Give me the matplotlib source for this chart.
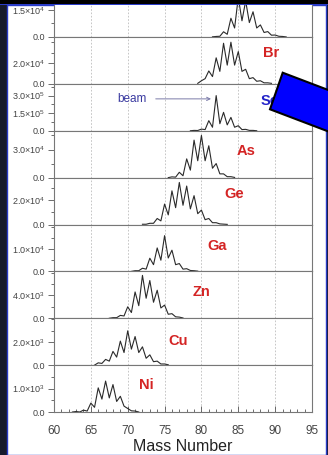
import numpy as np
import matplotlib
matplotlib.use('Agg')
import matplotlib.pyplot as plt
from matplotlib.patches import Rectangle, Polygon
from matplotlib.ticker import FixedLocator, FixedFormatter, MultipleLocator

plt.rcParams['font.family'] = ['Liberation Sans', 'DejaVu Sans']
plt.rcParams['mathtext.fontset'] = 'custom'
plt.rcParams['mathtext.rm'] = 'Liberation Sans'

# fragment yields, top panel to bottom panel
elements = ['Kr', 'Br', 'Se', 'As', 'Ge', 'Ga', 'Zn', 'Cu', 'Ni']

# each spectrum: first mass, then counts every half mass unit
kr_start = 81.5
kr_counts = [100, 300, 400, 2900, 1500, 10400, 5000, 22000, 9000, 20000, 8000,
             14000, 5000, 6700, 2500, 3000, 1000, 1100, 400, 300, 50]
br_start = 79.5
br_counts = [500, 3000, 5000, 12400, 7000, 25000, 12000, 39000, 18000, 40000, 18000,
             31000, 12000, 14000, 5000, 6000, 2500, 3000, 1000, 1000, 500]
se_start = 78.5
se_counts = [0, 3000, 2000, 14000, 10000, 86000, 30000, 300000, 60000, 157000,
             50000, 114000, 30000, 43000, 10000, 12000, 3000, 3000, 0]
as_start = 75.5
as_counts = [0, 800, 500, 5700, 2000, 20000, 8000, 40000, 18000, 45000, 18000,
             34000, 10000, 15000, 4000, 4000, 1000, 1000, 200]
ge_start = 72.0
ge_counts = [200, 200, 1000, 1000, 5000, 3000, 17000, 8000, 28000, 14000, 35000,
             16000, 32000, 13000, 24000, 9000, 12000, 4000, 5000, 1500, 1500, 500,
             300, 100]
ga_start = 70.5
ga_counts = [0, 300, 300, 1400, 1000, 5900, 3000, 10500, 5000, 16000, 6000, 9500,
             3000, 3500, 1000, 1200, 400, 300, 100]
zn_start = 67.5
zn_counts = [0, 100, 100, 500, 400, 2000, 1000, 4600, 2200, 7500, 3500, 6600, 2800,
             4900, 1800, 2300, 700, 800, 250, 200, 50]
cu_start = 65.5
cu_counts = [0, 200, 150, 500, 350, 1200, 700, 2100, 1100, 3000, 1400, 2500, 1100,
             1600, 600, 900, 300, 350, 100, 100, 30]
ni_start = 62.5
ni_counts = [0, 20, 0, 80, 40, 380, 200, 1030, 550, 1320, 600, 1170, 450, 670, 250,
             150, 50, 40, 0]

starts = [kr_start, br_start, se_start, as_start, ge_start, ga_start, zn_start,
          cu_start, ni_start]
counts = [kr_counts, br_counts, se_counts, as_counts, ge_counts, ga_counts,
          zn_counts, cu_counts, ni_counts]

# labelled y ticks and panel tops
major_ticks = [[1.5e4], [2e4], [1.5e5, 3e5], [3e4], [2e4], [1e4], [4e3], [2e3], [1e3]]
tick_text = [[r'$1.5{\times}10^{4}$'], [r'$2.0{\times}10^{4}$'],
             [r'$1.5{\times}10^{5}$', r'$3.0{\times}10^{5}$'],
             [r'$3.0{\times}10^{4}$'], [r'$2.0{\times}10^{4}$'],
             [r'$1.0{\times}10^{4}$'], [r'$4.0{\times}10^{3}$'],
             [r'$2.0{\times}10^{3}$'], [r'$1.0{\times}10^{3}$']]
y_tops = [2.6e4, 4.5e4, 4.0e5, 5.0e4, 3.9e4, 2.1e4, 8.2e3, 4.1e3, 2.0e3]

W, H = 328, 455
fig = plt.figure(figsize=(W / 100, H / 100), dpi=100)
fig.patch.set_facecolor('#161a2c')

# white page behind the plot
fig.patches.append(Rectangle((7 / W, 0), 319 / W, 1 - 5 / H, transform=fig.transFigure,
                             facecolor='white', edgecolor='#2a3cc8', lw=1.0, zorder=-10))

left, right = 54 / W, 312 / W
panel_h = 46.875
bottom_zero = 412

label_pos = [(90.6, 0.80), (89.5, 0.66), (89.2, 0.64), (86.1, 0.57), (84.4, 0.64),
             (82.1, 0.55), (80.0, 0.55), (76.9, 0.51), (72.5, 0.57)]

axes = []
for i, el in enumerate(elements):
    y0 = bottom_zero - (len(elements) - 1 - i) * panel_h
    ax = fig.add_axes([left, 1 - y0 / H, right - left, panel_h / H])
    axes.append(ax)
    mass = starts[i] + 0.5 * np.arange(len(counts[i]))
    ax.plot(mass, counts[i], color='#2a2a2a', lw=0.8)
    ax.set_xlim(60, 95)
    ax.set_ylim(0, y_tops[i])
    ax.set_facecolor('white')

    ax.xaxis.set_major_locator(MultipleLocator(5))
    ax.xaxis.set_minor_locator(MultipleLocator(1))
    ax.grid(axis='x', which='major', color='#bdbdbd', ls=(0, (2, 2)), lw=0.6)

    step = major_ticks[i][0] / 2
    minors = [v for v in np.arange(step, y_tops[i], step)
              if all(abs(v - m) > 1 for m in major_ticks[i])]
    ax.yaxis.set_major_locator(FixedLocator([0] + major_ticks[i]))
    ax.yaxis.set_major_formatter(FixedFormatter(['0.0'] + tick_text[i]))
    ax.yaxis.set_minor_locator(FixedLocator(minors))
    ax.tick_params(axis='y', which='major', direction='out', length=4, width=0.6,
                   color='#555555', labelsize=6.5, labelcolor='#444444', pad=2.5)
    ax.tick_params(axis='y', which='minor', direction='out', length=2.5, width=0.6,
                   color='#555555')

    for s in ax.spines.values():
        s.set_color('#777777')
        s.set_linewidth(0.8)

    if i < len(elements) - 1:
        ax.tick_params(axis='x', which='both', bottom=False, labelbottom=False)
    else:
        ax.tick_params(axis='x', which='major', direction='in', length=4, width=0.6,
                       color='#555555', labelsize=8.5, labelcolor='#444444', pad=9)
        ax.tick_params(axis='x', which='minor', direction='in', length=2.5, width=0.6,
                       color='#555555')
        ax.set_xlabel('Mass Number', fontsize=11.5, color='#222222', labelpad=2)

    lx, ly = label_pos[i]
    ax.text(lx, ly * y_tops[i], el, color='#2222c8' if el == 'Se' else '#d42424',
            fontsize=10.5, fontweight='bold', ha='center', va='center')

# beam marker on the Se panel
se_ax = axes[2]
beam_y = 0.68 * y_tops[2]
se_ax.annotate('', xy=(81.3, beam_y), xytext=(73.8, beam_y),
               arrowprops=dict(arrowstyle='->', color='#7a7aa8', lw=0.7,
                               shrinkA=0, shrinkB=0, mutation_scale=6))
se_ax.text(70.6, beam_y, 'beam', color='#3a3aa0', fontsize=8.5, ha='center',
           va='center')

# frame bar across the top
fig.patches.append(Rectangle((0, 1 - 4 / H), 1, 4 / H, transform=fig.transFigure,
                             facecolor='black', edgecolor='none', zorder=5))
fig.patches.append(Rectangle((0, 1 - 5 / H), 1, 1 / H, transform=fig.transFigure,
                             facecolor='#2a3cc8', edgecolor='none', zorder=5))

# tilted blue block over the Se label
corners_px = [(270, 109.3), (282.7, 72.7), (382.7, 110.7), (370, 147.3)]
fig.patches.append(Polygon([(x / W, 1 - y / H) for x, y in corners_px], closed=True,
                           transform=fig.transFigure, facecolor='#0000ff',
                           edgecolor='black', lw=1.5, zorder=6))

fig.savefig('out.png', dpi=100, facecolor=fig.get_facecolor())
